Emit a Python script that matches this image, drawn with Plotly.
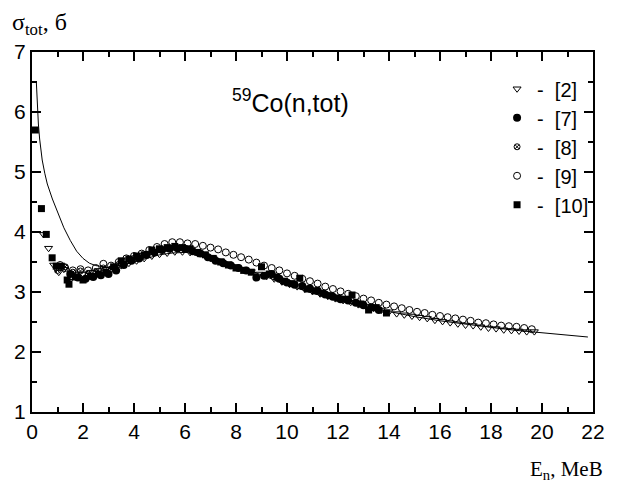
import plotly.graph_objects as go

# ---- data ----
model_E = [0.17, 0.2, 0.25, 0.3, 0.4, 0.5, 0.6, 0.8, 1.0, 1.25, 1.5, 1.75, 2.0, 2.25, 2.5, 3.0, 3.5,
           4.0, 4.5, 5.0, 5.5, 6.0, 6.5, 7.0, 7.5, 8.0, 9.0, 10.0, 11.0, 12.0, 13.0, 14.0, 15.0,
           16.0, 17.0, 18.0, 19.0, 20.0, 21.0, 21.8]
model_S = [6.5, 6.15, 5.8, 5.55, 5.2, 4.98, 4.8, 4.55, 4.33, 4.07, 3.86, 3.68, 3.56, 3.48, 3.44, 3.41, 3.44,
           3.5, 3.56, 3.62, 3.65, 3.66, 3.64, 3.6, 3.53, 3.45, 3.28, 3.12, 2.98, 2.86, 2.76, 2.67, 2.59,
           2.52, 2.46, 2.41, 2.36, 2.32, 2.28, 2.25]

ref2_E = [0.45, 0.65, 0.85, 1.05, 1.25, 1.45, 1.7, 2.0, 2.3, 2.6, 2.9, 3.2, 3.5, 3.8, 4.1, 4.4, 4.7, 5.0,
          5.3, 5.6, 5.9, 6.2, 6.5, 6.8, 7.1, 7.4, 7.7, 8.0, 8.3, 8.6, 8.9, 9.2, 9.5, 9.8, 10.1, 10.4,
          10.7, 11.0, 11.3, 11.6, 11.9, 12.2, 12.5, 12.8, 13.1, 13.4, 13.7, 14.0, 14.3, 14.6, 14.9,
          15.2, 15.5, 15.8, 16.1, 16.4, 16.7, 17.0, 17.3, 17.6, 17.9, 18.2, 18.5, 18.8, 19.1, 19.4, 19.7]
ref2_S = [3.96, 3.73, 3.45, 3.33, 3.38, 3.18, 3.30, 3.30, 3.33, 3.36, 3.38, 3.40, 3.44, 3.48, 3.52, 3.56,
          3.60, 3.63, 3.65, 3.67, 3.67, 3.66, 3.64, 3.60, 3.57, 3.52, 3.47, 3.42, 3.38, 3.34, 3.30, 3.26,
          3.22, 3.17, 3.13, 3.09, 3.05, 3.01, 2.97, 2.93, 2.89, 2.86, 2.83, 2.79, 2.76, 2.73, 2.70, 2.67,
          2.64, 2.62, 2.60, 2.58, 2.56, 2.53, 2.51, 2.49, 2.47, 2.45, 2.44, 2.42, 2.40, 2.39, 2.37, 2.36,
          2.35, 2.34, 2.34]

ref7_E = [1.5, 1.8, 2.1, 2.4, 2.7, 3.0, 3.3, 3.6, 3.9, 4.2, 4.5, 4.8, 5.1, 5.4, 5.7, 6.0, 6.3, 6.6, 6.9,
          7.2, 7.5, 7.8, 8.1, 8.4, 8.8, 9.1, 9.4, 9.7, 10.0, 10.3, 10.6, 10.9, 11.2, 11.5, 11.8, 12.1,
          12.4, 12.7, 13.0, 13.3, 13.6]
ref7_S = [3.30, 3.24, 3.22, 3.25, 3.28, 3.30, 3.36, 3.45, 3.52, 3.56, 3.62, 3.66, 3.70, 3.72, 3.73, 3.72,
          3.68, 3.64, 3.58, 3.52, 3.48, 3.44, 3.40, 3.36, 3.24, 3.27, 3.30, 3.22, 3.16, 3.12, 3.10, 3.06,
          3.02, 2.96, 2.92, 2.88, 2.86, 2.82, 2.78, 2.74, 2.70]

ref8_E = [1.0, 1.3, 1.6, 1.9, 2.2, 2.5, 2.8, 3.1, 3.4, 3.7, 4.0, 4.3]
ref8_S = [3.36, 3.42, 3.33, 3.35, 3.30, 3.33, 3.40, 3.38, 3.46, 3.52, 3.56, 3.60]

ref9_E = [1.1, 1.3, 1.6, 1.9, 2.2, 2.5, 2.8, 3.1, 3.4, 3.7, 4.0, 4.3, 4.6, 4.9, 5.2, 5.5, 5.8, 6.1, 6.4,
          6.7, 7.0, 7.3, 7.6, 7.9, 8.2, 8.5, 8.8, 9.1, 9.4, 9.7, 10.0, 10.3, 10.6, 10.9, 11.2, 11.5,
          11.8, 12.1, 12.4, 12.7, 13.0, 13.3, 13.6, 13.9, 14.2, 14.5, 14.8, 15.1, 15.4, 15.7, 16.0,
          16.3, 16.6, 16.9, 17.2, 17.5, 17.8, 18.1, 18.4, 18.7, 19.0, 19.3, 19.6]
ref9_S = [3.45, 3.40, 3.36, 3.38, 3.36, 3.40, 3.47, 3.44, 3.50, 3.56, 3.60, 3.64, 3.70, 3.75, 3.80, 3.83,
          3.83, 3.81, 3.80, 3.77, 3.74, 3.71, 3.66, 3.62, 3.58, 3.54, 3.49, 3.44, 3.40, 3.36, 3.31, 3.27,
          3.22, 3.18, 3.14, 3.09, 3.05, 3.01, 2.97, 2.93, 2.89, 2.86, 2.82, 2.79, 2.76, 2.73, 2.70, 2.67,
          2.65, 2.62, 2.60, 2.58, 2.56, 2.54, 2.52, 2.49, 2.48, 2.46, 2.44, 2.43, 2.42, 2.40, 2.38]

ref10_E = [0.13, 0.37, 0.56, 0.79, 0.95, 1.15, 1.38, 1.45, 1.7, 2.0, 2.3, 2.6, 2.9, 3.2, 3.5, 3.8, 4.1,
           4.4, 4.7, 5.0, 5.3, 5.6, 5.9, 6.2, 6.5, 6.8, 7.1, 7.4, 7.7, 8.0, 8.3, 8.6, 9.0, 9.3, 9.6,
           9.9, 10.2, 10.5, 10.8, 11.1, 11.4, 11.7, 12.0, 12.3, 12.55, 12.9, 13.2, 13.5, 13.9]
ref10_S = [5.70, 4.39, 3.96, 3.57, 3.43, 3.43, 3.20, 3.13, 3.25, 3.20, 3.26, 3.30, 3.33, 3.42, 3.52, 3.55,
           3.60, 3.62, 3.70, 3.72, 3.74, 3.76, 3.74, 3.72, 3.66, 3.62, 3.56, 3.50, 3.45, 3.40, 3.36, 3.33,
           3.42, 3.30, 3.25, 3.18, 3.14, 3.23, 3.05, 3.02, 2.98, 2.94, 2.90, 2.88, 2.95, 2.80, 2.70, 2.74,
           2.65]

x_ticks = list(range(0, 23, 2))
y_ticks = list(range(1, 8))

# ---- figure ----
fig = go.Figure()
fig.add_trace(go.Scatter(x=model_E, y=model_S, mode="lines",
                         line=dict(color="black", width=1), showlegend=False))
mk_line = dict(color="black", width=1)
fig.add_trace(go.Scatter(x=ref2_E, y=ref2_S, mode="markers", name="-\u00a0\u00a0[2]",
                         marker=dict(symbol="triangle-down-open", size=7, color="black", line=mk_line)))
fig.add_trace(go.Scatter(x=ref7_E, y=ref7_S, mode="markers", name="-\u00a0\u00a0[7]",
                         marker=dict(symbol="circle", size=8, color="black")))
fig.add_trace(go.Scatter(x=ref8_E, y=ref8_S, mode="markers", name="-\u00a0\u00a0[8]",
                         marker=dict(symbol="circle-x-open", size=6, color="black", line=mk_line)))
fig.add_trace(go.Scatter(x=ref9_E, y=ref9_S, mode="markers", name="-\u00a0\u00a0[9]",
                         marker=dict(symbol="circle-open", size=7, color="black", line=mk_line)))
fig.add_trace(go.Scatter(x=ref10_E, y=ref10_S, mode="markers", name="-\u00a0\u00a0[10]",
                         marker=dict(symbol="square", size=7, color="black")))

axis_common = dict(showline=True, linecolor="black", linewidth=2, mirror="ticks",
                   ticks="inside", tickcolor="black", tickwidth=1.5, ticklen=9,
                   showgrid=False, zeroline=False,
                   tickfont=dict(family="Arial, Liberation Sans", size=21, color="black"))
fig.update_xaxes(range=[0, 22], tickvals=x_ticks,
                 minor=dict(ticks="inside", ticklen=5, dtick=1, tickcolor="black", tickwidth=1.5),
                 **axis_common)
fig.update_yaxes(range=[1, 7], tickvals=y_ticks,
                 minor=dict(ticks="inside", ticklen=5, dtick=0.5, tickcolor="black", tickwidth=1.5),
                 **axis_common)

fig.add_annotation(text="<sup>59</sup>Co(n,tot)", xref="paper", yref="paper",
                   x=0.461, y=0.914, showarrow=False,
                   font=dict(family="Arial, Liberation Sans", size=25, color="black"))
fig.add_annotation(text="σ<sub>tot</sub>, б", xref="paper", yref="paper",
                   x=-0.04, y=1.125, xanchor="left", yanchor="top", showarrow=False,
                   font=dict(family="Liberation Serif, Times New Roman, serif", size=24, color="black"))
fig.add_annotation(text="E<sub>n</sub>, MeB", xref="paper", yref="paper",
                   x=1.021, y=-0.12, xanchor="right", yanchor="top", showarrow=False,
                   font=dict(family="Liberation Serif, Times New Roman, serif", size=21, color="black"))

fig.update_layout(
    width=617, height=485,
    margin=dict(l=32, r=13, t=52, b=73),
    paper_bgcolor="white", plot_bgcolor="white",
    legend=dict(x=0.829, y=0.952, xanchor="left", yanchor="top",
                bgcolor="rgba(0,0,0,0)", borderwidth=0,
                font=dict(family="Arial, Liberation Sans", size=20, color="black")),
)

fig.write_html("out.html")
